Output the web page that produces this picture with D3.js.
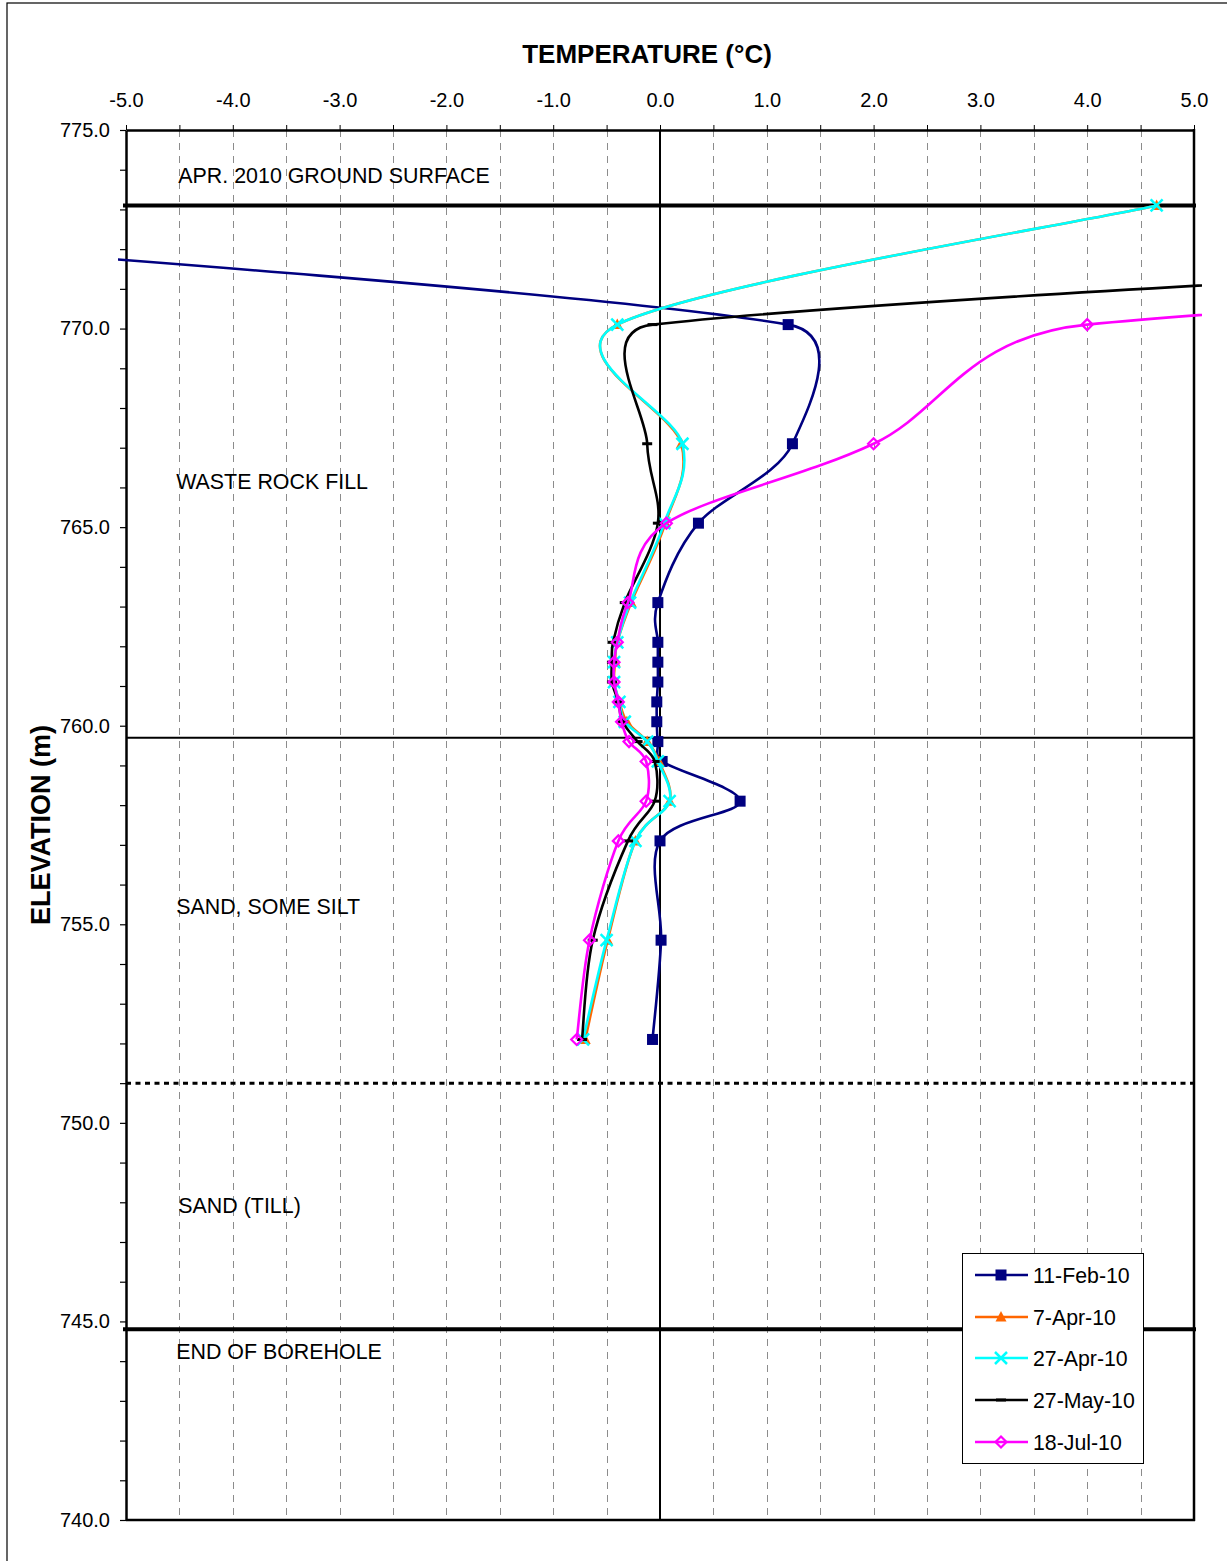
<!DOCTYPE html>
<html>
<head>
<meta charset="utf-8">
<script src="https://cdn.jsdelivr.net/npm/d3@7"></script>
<style>
  html, body { margin: 0; padding: 0; background: #fff; }
  svg text { font-family: "Liberation Sans", Arial, sans-serif; fill: #000; }
</style>
</head>
<body>
<svg id="chart" width="1227" height="1561"></svg>
<script>
// ---------------- DATA ----------------
const elevations = [773.1, 770.1, 767.1, 765.1, 763.1, 762.1, 761.6, 761.1, 760.6, 760.1, 759.6, 759.1, 758.1, 757.1, 754.6, 752.1];
const seriesNames = ["11-Feb-10", "7-Apr-10", "27-Apr-10", "27-May-10", "18-Jul-10"];
const feb11 = [-11.8, 1.20, 1.24, 0.36, -0.02, -0.02, -0.02, -0.02, -0.03, -0.03, -0.02, 0.02, 0.75, 0.00, 0.01, -0.07];
const apr07 = [4.65, -0.40, 0.20, 0.05, -0.27, -0.40, -0.42, -0.43, -0.38, -0.31, -0.12, -0.01, 0.09, -0.23, -0.49, -0.70];
const apr27 = [4.65, -0.40, 0.21, 0.04, -0.28, -0.40, -0.43, -0.43, -0.38, -0.33, -0.12, -0.02, 0.09, -0.23, -0.50, -0.72];
const may27 = [20.0, -0.07, -0.12, -0.02, -0.33, -0.44, -0.45, -0.45, -0.39, -0.35, -0.21, -0.05, -0.05, -0.30, -0.63, -0.73];
const jul18 = [25.0, 4.00, 2.00, 0.06, -0.30, -0.40, -0.43, -0.43, -0.39, -0.36, -0.29, -0.13, -0.13, -0.39, -0.66, -0.78];
const seriesColors = ["#000080", "#FF6600", "#00FFFF", "#000000", "#FF00FF"];
const seriesMarkers = ["square", "triangle", "cross", "dash", "diamond"];

const xTickValues = [-5, -4.5, -4, -3.5, -3, -2.5, -2, -1.5, -1, -0.5, 0, 0.5, 1, 1.5, 2, 2.5, 3, 3.5, 4, 4.5, 5];
const yTickValues = d3.range(740, 776, 1);

const layerLabels = ["APR. 2010 GROUND SURFACE", "WASTE ROCK FILL", "SAND, SOME SILT", "SAND (TILL)", "END OF BOREHOLE"];
const layerLabelTemp = [-4.51, -4.53, -4.53, -4.51, -4.53];
const layerLabelElev = [773.67, 765.96, 755.26, 747.73, 744.05];

const groundSurface = 773.1;
const waterContact = 759.7;
const tillContact = 751.0;
const endOfBorehole = 744.8;

// ---------------- SETUP ----------------
const svg = d3.select("#chart");
const x = d3.scaleLinear().domain([-5, 5]).range([126, 1194]);
const y = d3.scaleLinear().domain([740, 775]).range([1520, 130]);

// outer border
svg.append("rect").attr("x", 7).attr("y", 3).attr("width", 1240).attr("height", 1580)
  .attr("fill", "none").attr("stroke", "#000").attr("stroke-width", 1.2);

// grid lines
svg.append("g").selectAll("line")
  .data(xTickValues.filter(v => v !== -5 && v !== 0 && v !== 5))
  .join("line")
  .attr("x1", d => Math.round(x(d)) + 0.5).attr("x2", d => Math.round(x(d)) + 0.5)
  .attr("y1", y(775)).attr("y2", y(740))
  .attr("stroke", "#8c8c8c").attr("stroke-width", 1)
  .attr("stroke-dasharray", "7,6");

// reference lines
svg.append("line").attr("x1", x(-5) - 3).attr("x2", x(5) + 2)
  .attr("y1", y(groundSurface)).attr("y2", y(groundSurface))
  .attr("stroke", "#000").attr("stroke-width", 4);
svg.append("line").attr("x1", x(-5) - 3).attr("x2", x(5) + 2)
  .attr("y1", y(endOfBorehole)).attr("y2", y(endOfBorehole))
  .attr("stroke", "#000").attr("stroke-width", 4);
svg.append("line").attr("x1", x(-5)).attr("x2", x(5))
  .attr("y1", y(waterContact)).attr("y2", y(waterContact))
  .attr("stroke", "#000").attr("stroke-width", 2);
svg.append("line").attr("x1", x(-5)).attr("x2", x(5))
  .attr("y1", y(tillContact)).attr("y2", y(tillContact))
  .attr("stroke", "#000").attr("stroke-width", 3)
  .attr("stroke-dasharray", "5,4.5");
// zero line
svg.append("line").attr("x1", x(0)).attr("x2", x(0))
  .attr("y1", y(775)).attr("y2", y(740))
  .attr("stroke", "#000").attr("stroke-width", 2);

// plot frame (right & bottom)
svg.append("line").attr("x1", x(5)).attr("x2", x(5)).attr("y1", y(775) - 1).attr("y2", y(740) + 1)
  .attr("stroke", "#000").attr("stroke-width", 2.5);
svg.append("line").attr("x1", x(-5)).attr("x2", x(5) + 1).attr("y1", y(740)).attr("y2", y(740))
  .attr("stroke", "#000").attr("stroke-width", 2.5);

// axes
const xAxis = d3.axisTop(x).tickValues(xTickValues)
  .tickSize(5).tickSizeOuter(0).tickPadding(18)
  .tickFormat(d => Number.isInteger(d) ? d.toFixed(1) : "");
const gx = svg.append("g").attr("transform", `translate(0,${y(775)})`).call(xAxis);
gx.select(".domain").attr("stroke-width", 2.5);
gx.selectAll(".tick line").attr("stroke-width", 1);
gx.selectAll("text").attr("font-size", 20).style("font-family", "'Liberation Sans', Arial, sans-serif").attr("fill", "#000");

const yAxis = d3.axisLeft(y).tickValues(yTickValues)
  .tickSize(6).tickSizeOuter(0).tickPadding(10)
  .tickFormat(d => d % 5 === 0 ? d.toFixed(1) : "");
const gy = svg.append("g").attr("transform", `translate(${x(-5)},0)`).call(yAxis);
gy.select(".domain").attr("stroke-width", 2.5);
gy.selectAll(".tick line").attr("stroke-width", 1.2);
gy.selectAll("text").attr("font-size", 20).style("font-family", "'Liberation Sans', Arial, sans-serif").attr("fill", "#000");

// titles
svg.append("text").attr("x", 647).attr("y", 63).attr("text-anchor", "middle")
  .attr("font-size", 26).attr("font-weight", "bold").text("TEMPERATURE (°C)");
svg.append("text").attr("transform", "translate(50,825) rotate(-90)").attr("text-anchor", "middle")
  .attr("font-size", 27).attr("font-weight", "bold").text("ELEVATION (m)");

// layer labels
svg.append("g").selectAll("text").data(layerLabels).join("text")
  .attr("x", (d, i) => x(layerLabelTemp[i]))
  .attr("y", (d, i) => y(layerLabelElev[i]))
  .attr("font-size", 21.4).text(d => d);

// ---------------- Excel-like smoothing curve ----------------
function excelSmooth(context) {
  let pts = [];
  return {
    areaStart() {}, areaEnd() {},
    lineStart() { pts = []; },
    point(px, py) { pts.push([+px, +py]); },
    lineEnd() {
      const n = pts.length;
      if (!n) return;
      context.moveTo(pts[0][0], pts[0][1]);
      const dist = (a, b) => Math.hypot(b[0] - a[0], b[1] - a[1]);
      for (let i = 0; i < n - 1; i++) {
        const p0 = pts[Math.max(0, i - 1)], p1 = pts[i], p2 = pts[i + 1], p3 = pts[Math.min(n - 1, i + 2)];
        const d12 = dist(p1, p2), d02 = dist(p0, p2), d13 = dist(p1, p3);
        const f0 = (d02 / 6 < d12 / 2 || d02 === 0) ? 1 / 6 : d12 / (2 * d02);
        const f1 = (d13 / 6 < d12 / 2 || d13 === 0) ? 1 / 6 : d12 / (2 * d13);
        context.bezierCurveTo(
          p1[0] + f0 * (p2[0] - p0[0]), p1[1] + f0 * (p2[1] - p0[1]),
          p2[0] - f1 * (p3[0] - p1[0]), p2[1] - f1 * (p3[1] - p1[1]),
          p2[0], p2[1]);
      }
    }
  };
}

// clip
svg.append("defs").append("clipPath").attr("id", "plotClip")
  .append("rect").attr("x", 118).attr("y", 118).attr("width", 1084).attr("height", 1412);

const allSeries = [feb11, apr07, apr27, may27, jul18];
const line = d3.line().x(d => x(d[0])).y(d => y(d[1])).curve(excelSmooth);

function drawMarker(g, type, color, cx, cy) {
  if (type === "square") {
    g.append("rect").attr("x", cx - 5.5).attr("y", cy - 5.5).attr("width", 11).attr("height", 11).attr("fill", color);
  } else if (type === "triangle") {
    g.append("path").attr("d", `M${cx},${cy - 6}L${cx + 5.5},${cy + 4.5}L${cx - 5.5},${cy + 4.5}Z`).attr("fill", color);
  } else if (type === "cross") {
    g.append("path").attr("d", `M${cx - 6},${cy - 6}L${cx + 6},${cy + 6}M${cx - 6},${cy + 6}L${cx + 6},${cy - 6}`)
      .attr("stroke", color).attr("stroke-width", 2.5).attr("fill", "none");
  } else if (type === "dash") {
    g.append("rect").attr("x", cx - 5).attr("y", cy - 1.5).attr("width", 10).attr("height", 3).attr("fill", color);
  } else if (type === "diamond") {
    g.append("path").attr("d", `M${cx},${cy - 5.5}L${cx + 5.5},${cy}L${cx},${cy + 5.5}L${cx - 5.5},${cy}Z`)
      .attr("stroke", color).attr("stroke-width", 2.2).attr("fill", "none");
  }
}

const plot = svg.append("g").attr("clip-path", "url(#plotClip)");
allSeries.forEach((vals, si) => {
  const pts = vals.map((v, i) => [v, elevations[i]]);
  const g = plot.append("g");
  g.append("path").attr("d", line(pts)).attr("fill", "none")
    .attr("stroke", seriesColors[si]).attr("stroke-width", 2.6);
  pts.forEach(p => {
    if (p[0] >= -5 && p[0] <= 5) drawMarker(g, seriesMarkers[si], seriesColors[si], x(p[0]), y(p[1]));
  });
});

// legend
const lg = svg.append("g");
lg.append("rect").attr("x", 962.5).attr("y", 1253.5).attr("width", 181).attr("height", 210)
  .attr("fill", "#fff").attr("stroke", "#000").attr("stroke-width", 1);
const legendRowY = [1275, 1317, 1358, 1400, 1442];
seriesNames.forEach((name, i) => {
  const cy = legendRowY[i];
  lg.append("line").attr("x1", 975).attr("x2", 1028).attr("y1", cy).attr("y2", cy)
    .attr("stroke", seriesColors[i]).attr("stroke-width", 2.6);
  drawMarker(lg, seriesMarkers[i], seriesColors[i], 1001, cy);
  lg.append("text").attr("x", 1033).attr("y", cy + 7.5).attr("font-size", 21.3).text(name);
});
</script>
</body>
</html>
